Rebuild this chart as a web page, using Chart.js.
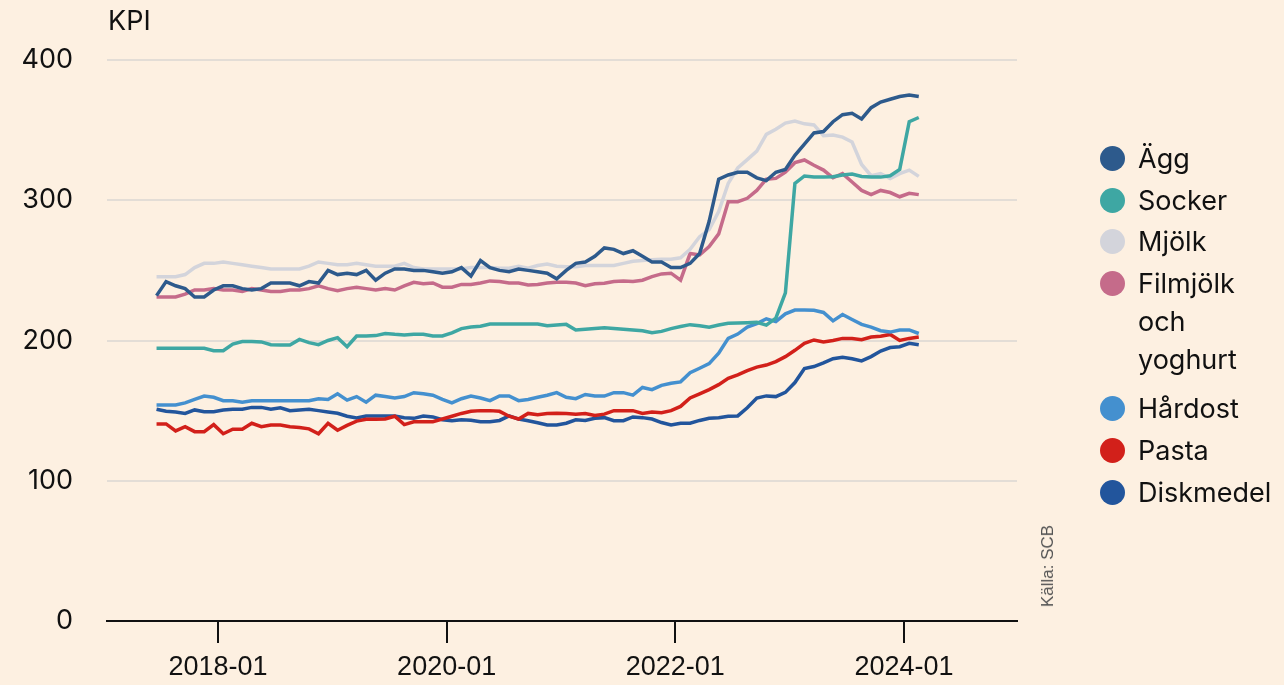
<!DOCTYPE html>
<html>
<head>
<meta charset="utf-8">
<script src="https://cdn.jsdelivr.net/npm/chart.js@4/dist/chart.umd.min.js"></script>
<style>
    body { margin: 0; background: #fdf0e1; }
    #wrap { position: relative; width: 1284px; height: 685px; background: #fdf0e1; overflow: hidden; }
    #chart { position: absolute; left: 0; top: 0; }
    #kpi { position: absolute; left: 108px; top: 4px; font: 27px Inter, sans-serif; color: #111; }
    #legend { position: absolute; left: 1100px; top: 140px; font: 27px Inter, sans-serif; color: #111; }
    .item { display: flex; align-items: flex-start; margin-bottom: 4px; }
    .dot { width: 25px; height: 25px; border-radius: 50%; margin-top: 6px; margin-right: 13px; flex: none; }
    .txt { width: 150px; line-height: 37.7px; }
    #source { position: absolute; left: 1048px; top: 566px; transform: translate(-50%, -50%) rotate(-90deg);
              font: 17px "Liberation Sans", sans-serif; color: #555; white-space: nowrap; }
</style>
</head>
<body>
<div id="wrap">
    <canvas id="chart" width="1284" height="685"></canvas>
    <div id="kpi">KPI</div>
    <div id="legend"></div>
    <div id="source">Källa: SCB</div>
</div>
<script>
// monthly values, 2017-06 .. 2024-02
const startYear = 2017, startMonth = 6, monthCount = 81;

const tickMonths = [12, 36, 60, 84];
const tickLabels = ['2018-01', '2020-01', '2022-01', '2024-01'];
const yTicks = [0, 100, 200, 300, 400];

const seriesNames = ['Ägg', 'Socker', 'Mjölk', 'Filmjölk och yoghurt', 'Hårdost', 'Pasta', 'Diskmedel'];
const seriesColors = ['#2d5a8c', '#3ea7a3', '#d3d4db', '#c56b8a', '#4490cf', '#d2201a', '#22559c'];

const agg = [
    232, 242, 239, 237, 231, 231, 236, 239, 239, 237,
    236, 237, 241, 241, 241, 239, 242, 241, 250, 247,
    248, 247, 250, 243, 248, 251, 251, 250, 250, 249,
    248, 249, 252, 246, 257, 252, 250, 249, 251, 250,
    249, 248, 244, 250, 255, 256, 260, 266, 265, 262,
    264, 260, 256, 256, 252, 252, 255, 262, 285, 315,
    318, 320, 320, 316, 314, 320, 322, 332, 340, 348,
    349, 356, 361, 362, 358, 366, 370, 372, 374, 375, 374
];
const socker = [
    194.4, 194.4, 194.4, 194.4, 194.4, 194.4, 192.7, 192.7, 197.5, 199.2,
    199.2, 199, 197, 196.8, 196.8, 200.8, 198.5, 197, 200, 202,
    195.6, 203.2, 203.2, 203.5, 205, 204.4, 204, 204.5, 204.5, 203.2,
    203.2, 205.5, 208.5, 209.6, 210.2, 211.8, 211.8, 211.8, 211.8, 211.8,
    211.8, 210.5, 211, 211.5, 207.5, 208, 208.5, 209, 208.5, 208,
    207.5, 207, 205.5, 206.5, 208.5, 210, 211.3, 210.5, 209.4, 211,
    212.3, 212.5, 212.7, 213, 211, 216, 234, 312, 317.3, 316.5,
    316.5, 316.8, 318, 318.7, 317, 316.5, 316.5, 317.5, 322, 356, 359
];
const mjolk = [
    245.5, 245.5, 245.5, 247, 252, 255, 255, 256, 255, 254,
    253, 252, 251, 251, 251, 251, 253, 256, 255, 254,
    254, 255, 254, 253, 253, 253, 255, 252, 251, 251,
    251, 251, 251, 252, 252, 252, 251.5, 251.5, 253, 251.5,
    253.5, 254.5, 253, 252.5, 252.5, 253.5, 253.5, 253.5, 253.5, 255,
    256.5, 257, 257.5, 258, 258, 259, 265, 274, 279, 292,
    312, 323, 329, 335, 347, 350.6, 355, 356.5, 354.5, 353.7,
    346, 346.5, 345, 341.5, 325.5, 317.5, 319, 315.5, 319, 321.5, 317
];
const filmjolk = [
    231, 231, 231, 233, 236, 236, 237, 236, 236, 235,
    237, 236, 235, 235, 236, 236, 237, 239, 237, 235.5,
    237, 238, 237, 236, 237, 236, 239, 241.5, 240.5, 241,
    238, 238, 240, 240, 241, 242.5, 242, 241, 241, 239.6,
    240, 241, 241.5, 241.5, 241, 239, 240.5, 240.8, 242, 242.4,
    242, 243, 245.5, 247.5, 248, 243, 262, 261, 267, 276,
    299, 299, 301.4, 307, 315, 315.6, 320, 326.8, 328.7, 325,
    321.5, 316, 319, 313, 307, 304, 307, 305.5, 302.5, 305, 304
];
const hardost = [
    154, 154, 154, 155.5, 158, 160.4, 159.5, 157.1, 157.1, 156,
    157, 157, 157, 157, 157, 157, 157, 158.5, 158, 162,
    157.5, 160, 156, 161, 160, 159, 160, 162.8, 162, 161,
    158, 155.5, 158.5, 160.4, 159, 157.1, 160.4, 160.4, 157.1, 158,
    159.5, 161, 162.8, 159.5, 158.5, 161.5, 160.4, 160.4, 162.8, 162.8,
    161, 166.5, 165, 168, 169.5, 170.5, 177, 180.2, 183.5, 191,
    201.5, 204.6, 209.5, 212, 215.5, 213.5, 219, 221.7, 221.7, 221.5,
    220, 214, 218.5, 215, 211.5, 209.5, 207, 206, 207.5, 207.5, 205
];
const pasta = [
    140.5, 140.5, 135.5, 138.6, 135, 135, 140, 133.5, 136.7, 136.7,
    141, 138.5, 139.8, 139.8, 138.5, 138, 137, 133.5, 141, 136,
    139.5, 142.5, 143.8, 143.8, 144, 146, 140, 142.1, 142.1, 142.1,
    144, 146, 148, 149.5, 150, 150, 149.5, 146, 144, 148,
    147, 148, 148.1, 148, 147.5, 148, 146.5, 147.5, 150, 150,
    150, 148, 149, 148.5, 150, 153, 159, 162, 165, 168.5,
    173, 175.5, 178.5, 181, 182.5, 185, 188.5, 193, 198, 200.4,
    199, 200, 201.5, 201.5, 200.5, 202.5, 203, 204.3, 200, 201.5, 202.5
];
const diskmedel = [
    151, 149.5, 149, 148, 150.5, 149.2, 149.2, 150.4, 151, 151,
    152.3, 152.3, 151, 152, 150, 150.5, 151, 150, 149, 148.1,
    146, 144.8, 146.2, 146.2, 146.2, 146.2, 145, 144.5, 146.2, 145.5,
    143.5, 142.8, 143.5, 143.2, 142.1, 142, 143, 146.2, 144, 142.8,
    141.4, 139.8, 139.8, 141, 143.5, 143, 144.5, 145, 142.8, 142.8,
    145.5, 145, 144, 141.5, 139.8, 141, 141, 143, 144.5, 145,
    146, 146.2, 152, 159, 160.5, 160, 163, 170, 180, 181.4,
    184, 187, 188, 187, 185.5, 188.5, 192.5, 195, 195.6, 198, 197
];

const seriesValues = [agg, socker, mjolk, filmjolk, hardost, pasta, diskmedel];

// month labels 'YYYY-MM'
const months = [];
for (let i = 0; i < monthCount; i++) {
    const m = startMonth - 1 + i;
    const y = startYear + Math.floor(m / 12);
    months.push(y + '-' + String(m % 12 + 1).padStart(2, '0'));
}

// months since 2017-01, points sit mid-month
function monthPos(label) {
    const [y, m] = label.split('-').map(Number);
    return (y - 2017) * 12 + (m - 1) + 0.55;
}

const datasets = seriesNames.map((name, k) => ({
    label: name,
    data: seriesValues[k].map((v, i) => ({ x: monthPos(months[i]), y: v })),
    borderColor: seriesColors[k],
    backgroundColor: seriesColors[k],
    borderWidth: 3.5,
    pointRadius: 0,
    tension: 0,
    fill: false
}));

// legend
const legend = document.getElementById('legend');
seriesNames.forEach((name, k) => {
    const item = document.createElement('div');
    item.className = 'item';
    if (k === 3) item.style.marginBottom = '12px';
    item.innerHTML = '<span class="dot" style="background:' + seriesColors[k] + '"></span><span class="txt">' + name + '</span>';
    legend.appendChild(item);
});

const ctx = document.getElementById('chart').getContext('2d');
new Chart(ctx, {
    type: 'line',
    data: { datasets: datasets },
    options: {
        responsive: false,
        animation: false,
        layout: { padding: { top: 60, right: 267, bottom: 0, left: 0 } },
        plugins: {
            legend: { display: false },
            tooltip: { enabled: false }
        },
        scales: {
            x: {
                type: 'linear',
                min: 0.35,
                max: 95.86,
                afterBuildTicks: function(scale) {
                    scale.ticks = tickMonths.map(v => ({ value: v }));
                },
                afterFit: function(scale) { scale.height = 64; },
                ticks: {
                    autoSkip: false,
                    maxRotation: 0,
                    padding: 8,
                    color: '#111',
                    font: { family: '"Liberation Sans", Arial, sans-serif', size: 27 },
                    callback: function(value) {
                        const idx = tickMonths.indexOf(value);
                        return idx >= 0 ? tickLabels[idx] : '';
                    }
                },
                grid: {
                    drawOnChartArea: false,
                    drawTicks: true,
                    tickLength: 22,
                    color: '#111',
                    lineWidth: 2
                },
                border: { display: true, color: '#111', width: 2 }
            },
            y: {
                min: 0,
                max: 400,
                afterBuildTicks: function(scale) {
                    scale.ticks = yTicks.map(v => ({ value: v }));
                },
                afterFit: function(scale) { scale.width = 107; },
                ticks: {
                    padding: 34,
                    color: '#111',
                    font: { family: 'Inter', size: 27 }
                },
                grid: {
                    color: '#e3ddd6',
                    lineWidth: 2,
                    drawTicks: false
                },
                border: { display: false }
            }
        }
    }
});
</script>
</body>
</html>
